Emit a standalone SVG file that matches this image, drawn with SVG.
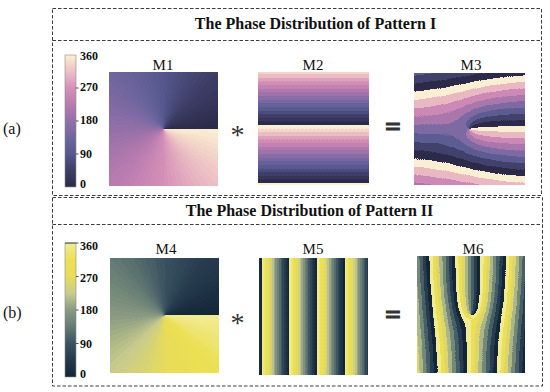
<svg xmlns="http://www.w3.org/2000/svg" width="550" height="392" viewBox="0 0 550 392">
<defs>
<style>
.box{fill:none;stroke:#3c3c3c;stroke-width:1;stroke-dasharray:3.5 2}
.title{font-family:"Liberation Serif","Times New Roman",serif;font-weight:bold;font-size:16px;text-anchor:middle;fill:#111}
.lbl{font-family:"Liberation Serif","Times New Roman",serif;font-size:15px;text-anchor:middle;fill:#111}
.tick{font-family:"Liberation Serif","Times New Roman",serif;font-weight:bold;font-size:12px;fill:#111}
.row{font-family:"Liberation Serif","Times New Roman",serif;font-size:16px;fill:#111}
.op{font-family:"Liberation Serif","Times New Roman",serif;text-anchor:middle;fill:#333}
.eq{stroke:#333;stroke-width:1.1}
.cb{stroke:#8a8a8a;stroke-width:0.6}
.tk{stroke:#222;stroke-width:0.8}
</style>
<path id="w" d="M0,0 L75,0 L73.86,-13.02 Z"/>
<path id="w5" d="M0,0 L75,0 L74.71,-6.54 Z"/>
<g id="vortex" transform="translate(50,50)" shape-rendering="crispEdges">
<use href="#w" fill="rgb(2,2,2)"/>
<use href="#w" transform="rotate(-5)" fill="rgb(5,5,5)"/>
<use href="#w" transform="rotate(-10)" fill="rgb(9,9,9)"/>
<use href="#w" transform="rotate(-15)" fill="rgb(12,12,12)"/>
<use href="#w" transform="rotate(-20)" fill="rgb(16,16,16)"/>
<use href="#w" transform="rotate(-25)" fill="rgb(19,19,19)"/>
<use href="#w" transform="rotate(-30)" fill="rgb(23,23,23)"/>
<use href="#w" transform="rotate(-35)" fill="rgb(27,27,27)"/>
<use href="#w" transform="rotate(-40)" fill="rgb(30,30,30)"/>
<use href="#w" transform="rotate(-45)" fill="rgb(34,34,34)"/>
<use href="#w" transform="rotate(-50)" fill="rgb(37,37,37)"/>
<use href="#w" transform="rotate(-55)" fill="rgb(41,41,41)"/>
<use href="#w" transform="rotate(-60)" fill="rgb(44,44,44)"/>
<use href="#w" transform="rotate(-65)" fill="rgb(48,48,48)"/>
<use href="#w" transform="rotate(-70)" fill="rgb(51,51,51)"/>
<use href="#w" transform="rotate(-75)" fill="rgb(55,55,55)"/>
<use href="#w" transform="rotate(-80)" fill="rgb(58,58,58)"/>
<use href="#w" transform="rotate(-85)" fill="rgb(62,62,62)"/>
<use href="#w" transform="rotate(-90)" fill="rgb(66,66,66)"/>
<use href="#w" transform="rotate(-95)" fill="rgb(69,69,69)"/>
<use href="#w" transform="rotate(-100)" fill="rgb(73,73,73)"/>
<use href="#w" transform="rotate(-105)" fill="rgb(76,76,76)"/>
<use href="#w" transform="rotate(-110)" fill="rgb(80,80,80)"/>
<use href="#w" transform="rotate(-115)" fill="rgb(83,83,83)"/>
<use href="#w" transform="rotate(-120)" fill="rgb(87,87,87)"/>
<use href="#w" transform="rotate(-125)" fill="rgb(90,90,90)"/>
<use href="#w" transform="rotate(-130)" fill="rgb(94,94,94)"/>
<use href="#w" transform="rotate(-135)" fill="rgb(97,97,97)"/>
<use href="#w" transform="rotate(-140)" fill="rgb(101,101,101)"/>
<use href="#w" transform="rotate(-145)" fill="rgb(104,104,104)"/>
<use href="#w" transform="rotate(-150)" fill="rgb(108,108,108)"/>
<use href="#w" transform="rotate(-155)" fill="rgb(112,112,112)"/>
<use href="#w" transform="rotate(-160)" fill="rgb(115,115,115)"/>
<use href="#w" transform="rotate(-165)" fill="rgb(119,119,119)"/>
<use href="#w" transform="rotate(-170)" fill="rgb(122,122,122)"/>
<use href="#w" transform="rotate(-175)" fill="rgb(126,126,126)"/>
<use href="#w" transform="rotate(-180)" fill="rgb(129,129,129)"/>
<use href="#w" transform="rotate(-185)" fill="rgb(133,133,133)"/>
<use href="#w" transform="rotate(-190)" fill="rgb(136,136,136)"/>
<use href="#w" transform="rotate(-195)" fill="rgb(140,140,140)"/>
<use href="#w" transform="rotate(-200)" fill="rgb(143,143,143)"/>
<use href="#w" transform="rotate(-205)" fill="rgb(147,147,147)"/>
<use href="#w" transform="rotate(-210)" fill="rgb(151,151,151)"/>
<use href="#w" transform="rotate(-215)" fill="rgb(154,154,154)"/>
<use href="#w" transform="rotate(-220)" fill="rgb(158,158,158)"/>
<use href="#w" transform="rotate(-225)" fill="rgb(161,161,161)"/>
<use href="#w" transform="rotate(-230)" fill="rgb(165,165,165)"/>
<use href="#w" transform="rotate(-235)" fill="rgb(168,168,168)"/>
<use href="#w" transform="rotate(-240)" fill="rgb(172,172,172)"/>
<use href="#w" transform="rotate(-245)" fill="rgb(175,175,175)"/>
<use href="#w" transform="rotate(-250)" fill="rgb(179,179,179)"/>
<use href="#w" transform="rotate(-255)" fill="rgb(182,182,182)"/>
<use href="#w" transform="rotate(-260)" fill="rgb(186,186,186)"/>
<use href="#w" transform="rotate(-265)" fill="rgb(189,189,189)"/>
<use href="#w" transform="rotate(-270)" fill="rgb(193,193,193)"/>
<use href="#w" transform="rotate(-275)" fill="rgb(197,197,197)"/>
<use href="#w" transform="rotate(-280)" fill="rgb(200,200,200)"/>
<use href="#w" transform="rotate(-285)" fill="rgb(204,204,204)"/>
<use href="#w" transform="rotate(-290)" fill="rgb(207,207,207)"/>
<use href="#w" transform="rotate(-295)" fill="rgb(211,211,211)"/>
<use href="#w" transform="rotate(-300)" fill="rgb(214,214,214)"/>
<use href="#w" transform="rotate(-305)" fill="rgb(218,218,218)"/>
<use href="#w" transform="rotate(-310)" fill="rgb(221,221,221)"/>
<use href="#w" transform="rotate(-315)" fill="rgb(225,225,225)"/>
<use href="#w" transform="rotate(-320)" fill="rgb(228,228,228)"/>
<use href="#w" transform="rotate(-325)" fill="rgb(232,232,232)"/>
<use href="#w" transform="rotate(-330)" fill="rgb(236,236,236)"/>
<use href="#w" transform="rotate(-335)" fill="rgb(239,239,239)"/>
<use href="#w" transform="rotate(-340)" fill="rgb(243,243,243)"/>
<use href="#w" transform="rotate(-345)" fill="rgb(246,246,246)"/>
<use href="#w" transform="rotate(-350)" fill="rgb(250,250,250)"/>
<use href="#w5" transform="rotate(-355)" fill="rgb(253,253,253)"/>
</g>
<g id="vortex2"><use href="#vortex"/><use href="#vortex"/></g>
<clipPath id="sq"><rect x="0" y="0" width="100" height="100"/></clipPath>
<linearGradient id="rampY" gradientUnits="userSpaceOnUse" x1="0" y1="-4.4" x2="0" y2="46.9" spreadMethod="repeat"><stop offset="0" stop-color="#fff"/><stop offset="1" stop-color="#000"/></linearGradient>
<linearGradient id="rampX" gradientUnits="userSpaceOnUse" x1="-23.1" y1="0" x2="2.3" y2="0" spreadMethod="repeat"><stop offset="0" stop-color="#fff"/><stop offset="1" stop-color="#000"/></linearGradient>
<linearGradient id="cbA" x1="0" y1="0" x2="0" y2="1">
<stop offset="0" stop-color="#fbf0d2"/><stop offset=".125" stop-color="#ecc0c4"/><stop offset=".25" stop-color="#d690b8"/><stop offset=".375" stop-color="#b87cb0"/><stop offset=".5" stop-color="#9470a8"/><stop offset=".625" stop-color="#7066a0"/><stop offset=".75" stop-color="#55588e"/><stop offset=".875" stop-color="#3e3d66"/><stop offset="1" stop-color="#2c2a4a"/>
</linearGradient>
<linearGradient id="cbB" x1="0" y1="0" x2="0" y2="1">
<stop offset="0" stop-color="#f2ec96"/><stop offset=".125" stop-color="#ece054"/><stop offset=".25" stop-color="#e8dc5a"/><stop offset=".375" stop-color="#c8cc8e"/><stop offset=".5" stop-color="#8a9a82"/><stop offset=".625" stop-color="#647c74"/><stop offset=".75" stop-color="#3a5260"/><stop offset=".875" stop-color="#243a4c"/><stop offset="1" stop-color="#142638"/>
</linearGradient>
<filter id="smA" color-interpolation-filters="sRGB"><feComponentTransfer>
<feFuncR type="table" tableValues=".173 .243 .333 .439 .580 .722 .839 .925 .984"/>
<feFuncG type="table" tableValues=".165 .239 .345 .400 .439 .486 .565 .753 .941"/>
<feFuncB type="table" tableValues=".290 .400 .557 .627 .659 .690 .722 .769 .824"/>
<feFuncA type="table" tableValues="1 1"/>
</feComponentTransfer></filter>
<filter id="smB" color-interpolation-filters="sRGB"><feComponentTransfer>
<feFuncR type="table" tableValues=".078 .141 .227 .392 .541 .784 .910 .925 .949"/>
<feFuncG type="table" tableValues=".149 .227 .322 .486 .604 .800 .863 .878 .925"/>
<feFuncB type="table" tableValues=".220 .298 .376 .455 .510 .557 .353 .329 .588"/>
<feFuncA type="table" tableValues="1 1"/>
</feComponentTransfer></filter>
<filter id="d16A" color-interpolation-filters="sRGB"><feComponentTransfer>
<feFuncR type="discrete" tableValues=".173 .212 .251 .298 .349 .404 .467 .541 .620 .694 .761 .824 .875 .922 .953 .984"/>
<feFuncG type="discrete" tableValues=".165 .204 .247 .302 .353 .380 .408 .427 .451 .478 .514 .553 .639 .741 .839 .941"/>
<feFuncB type="discrete" tableValues=".290 .349 .412 .494 .565 .604 .635 .651 .667 .682 .702 .718 .741 .765 .796 .824"/>
</feComponentTransfer></filter>
<filter id="d16B" color-interpolation-filters="sRGB"><feComponentTransfer>
<feFuncR type="discrete" tableValues=".078 .114 .145 .192 .251 .337 .424 .502 .608 .737 .827 .894 .918 .925 .937 .949"/>
<feFuncG type="discrete" tableValues=".149 .192 .235 .282 .345 .431 .510 .573 .655 .761 .820 .855 .871 .878 .902 .925"/>
<feFuncB type="discrete" tableValues=".220 .263 .302 .345 .388 .427 .467 .494 .522 .549 .490 .380 .345 .329 .451 .588"/>
</feComponentTransfer></filter>
<filter id="sumA" color-interpolation-filters="sRGB"><feComponentTransfer>
<feFuncR type="discrete" tableValues=".173 .255 .365 .498 .663 .804 .914 .984 .173 .255 .365 .498 .663 .804 .914 .984"/>
<feFuncG type="discrete" tableValues=".165 .255 .361 .416 .467 .541 .725 .941 .165 .255 .361 .416 .467 .541 .725 .941"/>
<feFuncB type="discrete" tableValues=".290 .424 .576 .639 .678 .714 .761 .824 .290 .424 .576 .639 .678 .714 .761 .824"/>
<feFuncA type="table" tableValues="1 1"/>
</feComponentTransfer></filter>
<filter id="sumB" color-interpolation-filters="sRGB"><feComponentTransfer>
<feFuncR type="discrete" tableValues=".078 .153 .275 .455 .678 .875 .922 .949 .078 .153 .275 .455 .678 .875 .922 .949"/>
<feFuncG type="discrete" tableValues=".149 .239 .369 .537 .718 .843 .875 .925 .149 .239 .369 .537 .718 .843 .875 .925"/>
<feFuncB type="discrete" tableValues=".220 .310 .400 .478 .537 .412 .333 .588 .220 .310 .400 .478 .537 .412 .333 .588"/>
<feFuncA type="table" tableValues="1 1"/>
</feComponentTransfer></filter>
</defs>
<rect width="550" height="392" fill="#fff"/>

<g id="pattern-a">
<rect class="box" x="52.5" y="8.5" width="489" height="187"/>
<line class="box" x1="52.5" y1="40.5" x2="541.5" y2="40.5"/>
<text class="title" x="315.5" y="29.3">The Phase Distribution of Pattern I</text>
<text class="row" x="3" y="134">(a)</text>
<g id="colorbar-a">
<rect class="cb" x="65" y="55" width="11" height="132" fill="url(#cbA)"/>
<path class="tk" d="M76,88H78.5M76,121H78.5M76,154H78.5"/>
<text class="tick" x="80" y="60">360</text>
<text class="tick" x="80" y="91">270</text>
<text class="tick" x="80" y="124">180</text>
<text class="tick" x="80" y="158">90</text>
<text class="tick" x="80" y="188">0</text>
</g>
<g id="m1">
<text class="lbl" x="163" y="70">M1</text>
<g transform="translate(109,72) scale(1.09,1.14)"><g filter="url(#smA)" clip-path="url(#sq)"><use href="#vortex2"/></g></g>
</g>
<g id="m2">
<text class="lbl" x="313" y="70">M2</text>
<g transform="translate(258,72) scale(1.11,1.13)"><g filter="url(#d16A)" clip-path="url(#sq)"><rect x="0" y="0" width="100" height="100" fill="url(#rampY)"/></g></g>
</g>
<g id="m3">
<text class="lbl" x="471" y="70">M3</text>
<g transform="translate(414,73) scale(1.11,1.12)"><g filter="url(#sumA)" clip-path="url(#sq)"><use href="#vortex2"/><rect x="0" y="0" width="100" height="100" fill="url(#rampY)" fill-opacity="0.5"/></g></g>
</g>
</g>

<g id="pattern-b">
<rect class="box" x="52.5" y="197.5" width="490" height="188.5"/>
<line class="box" x1="52.5" y1="224.5" x2="542.5" y2="224.5"/>
<text class="title" x="309.5" y="216">The Phase Distribution of Pattern II</text>
<text class="row" x="3" y="318">(b)</text>
<g id="colorbar-b">
<rect class="cb" x="65" y="243" width="11" height="134" fill="url(#cbB)"/>
<path class="tk" d="M65,243H78.5M76,276.5H78.5M76,310H78.5M76,343.5H78.5"/>
<text class="tick" x="80" y="250">360</text>
<text class="tick" x="80" y="282">270</text>
<text class="tick" x="80" y="314">180</text>
<text class="tick" x="80" y="348">90</text>
<text class="tick" x="80" y="378">0</text>
</g>
<g id="m4">
<text class="lbl" x="166" y="254">M4</text>
<g transform="translate(110,258) scale(1.09,1.15)"><g filter="url(#smB)" clip-path="url(#sq)"><use href="#vortex2"/></g></g>
</g>
<g id="m5">
<text class="lbl" x="313" y="254">M5</text>
<g transform="translate(259,258) scale(1.09,1.17)"><g filter="url(#d16B)" clip-path="url(#sq)"><rect x="0" y="0" width="100" height="100" fill="url(#rampX)"/></g></g>
</g>
<g id="m6">
<text class="lbl" x="473" y="254">M6</text>
<g transform="translate(417,256) scale(1.08,1.17)"><g filter="url(#sumB)" clip-path="url(#sq)"><use href="#vortex2"/><rect x="0" y="0" width="100" height="100" fill="url(#rampX)" fill-opacity="0.5"/></g></g>
</g>
</g>

<g id="operators">
<text class="op" x="237.5" y="144" font-size="28">*</text>
<text class="op eq" x="393" y="136" font-size="28" font-weight="bold">=</text>
<text class="op" x="237.5" y="332" font-size="28">*</text>
<text class="op eq" x="393" y="324" font-size="28" font-weight="bold">=</text>
</g>
</svg>
